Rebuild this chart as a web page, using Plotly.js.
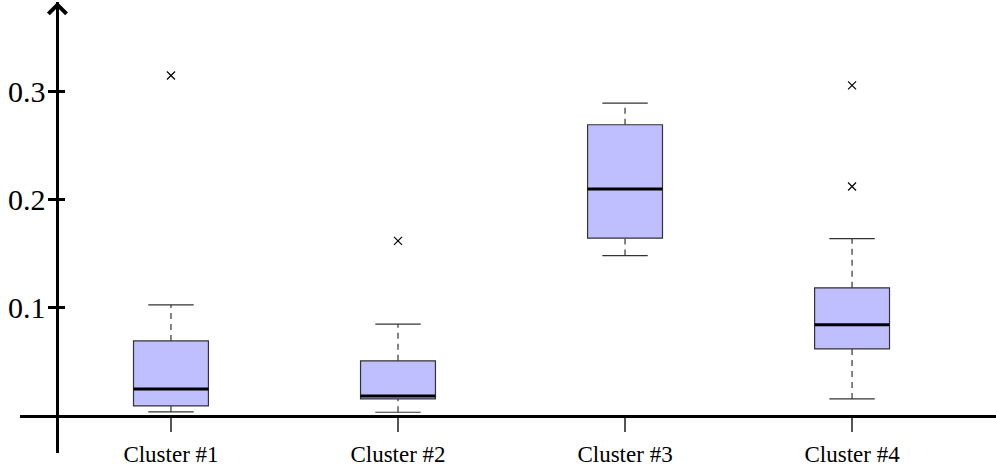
<!DOCTYPE html>
<html>
<head>
<meta charset="utf-8">
<script src="https://cdn.plot.ly/plotly-3.0.1.min.js"></script>
<style>html,body{margin:0;padding:0;background:#fff;}#chart{width:996px;height:470px;}</style>
</head>
<body>
<div id="chart"></div>
<script>
// ---- data ----
var categories = ['Cluster #1', 'Cluster #2', 'Cluster #3', 'Cluster #4'];
var lowerWhisker = [0.0037, 0.0034, 0.1484, 0.0157];
var q1Values = [0.0093, 0.0157, 0.1645, 0.0620];
var medianValues = [0.0250, 0.0185, 0.2099, 0.0843];
var q3Values = [0.0694, 0.0510, 0.2694, 0.1185];
var upperWhisker = [0.1028, 0.0850, 0.2895, 0.1640];
var outlierCluster = [0, 1, 3, 3];
var outlierValues = [0.315, 0.162, 0.3058, 0.2123];
var yTickValues = [0.1, 0.2, 0.3];
var yTickLabels = ['0.1', '0.2', '0.3'];

// ---- style ----
var boxWidth = 0.33, capHalf = 0.1;
var yRange = [-0.0343, 0.383];
var xRange = [-0.665, 3.634];
var yAxisAt = -0.5;
var serif = 'Liberation Serif, Times New Roman, serif';

var pos = categories.map(function (c, i) { return i; });

var whX = [], whY = [], capX = [], capY = [], medX = [], medY = [];
pos.forEach(function (p, i) {
  whX.push(p, p, null, p, p, null);
  whY.push(q3Values[i], upperWhisker[i], null, lowerWhisker[i], q1Values[i], null);
  capX.push(p - capHalf, p + capHalf, null, p - capHalf, p + capHalf, null);
  capY.push(upperWhisker[i], upperWhisker[i], null, lowerWhisker[i], lowerWhisker[i], null);
  medX.push(p - boxWidth / 2, p + boxWidth / 2, null);
  medY.push(medianValues[i], medianValues[i], null);
});

var traces = [
  {type: 'scatter', mode: 'lines', x: whX, y: whY, line: {color: '#333', width: 1.2, dash: '6px,5px'}, hoverinfo: 'skip', showlegend: false},
  {type: 'scatter', mode: 'lines', x: capX, y: capY, line: {color: '#333', width: 1.2}, hoverinfo: 'skip', showlegend: false},
  {type: 'box', x: pos, q1: q1Values, median: medianValues, q3: q3Values,
   lowerfence: q1Values, upperfence: q3Values, width: boxWidth, whiskerwidth: 0,
   boxpoints: false, fillcolor: 'rgb(191,191,255)', line: {color: '#333', width: 1.2}, showlegend: false},
  {type: 'scatter', mode: 'lines', x: medX, y: medY, line: {color: '#000', width: 3}, hoverinfo: 'skip', showlegend: false},
  {type: 'scatter', mode: 'markers', x: outlierCluster, y: outlierValues,
   marker: {symbol: 'x-thin-open', size: 8, color: '#000', line: {color: '#000', width: 1.2}}, showlegend: false},
  {type: 'scatter', x: [null], y: [null], yaxis: 'y2', hoverinfo: 'skip', showlegend: false}
];

var xFrac = (yAxisAt - xRange[0]) / (xRange[1] - xRange[0]);
var yFrac = (0 - yRange[0]) / (yRange[1] - yRange[0]);

var layout = {
  width: 996, height: 470,
  margin: {l: 20, r: 0, t: 2, b: 17},
  paper_bgcolor: '#fff', plot_bgcolor: '#fff',
  showlegend: false,
  boxmode: 'overlay',
  xaxis: {
    range: xRange, anchor: 'free', position: yFrac,
    showline: true, linecolor: '#000', linewidth: 3,
    showgrid: false, zeroline: false,
    tickmode: 'array', tickvals: pos, ticktext: categories,
    ticks: 'outside', ticklen: 14, tickwidth: 1.2, tickcolor: '#555',
    ticklabelstandoff: 2,
    tickfont: {family: serif, size: 23, color: '#000'}
  },
  yaxis: {
    range: yRange, anchor: 'free', position: xFrac,
    showline: true, linecolor: '#000', linewidth: 3,
    showgrid: false, zeroline: false,
    tickmode: 'array', tickvals: yTickValues, ticktext: yTickLabels,
    ticks: 'outside', ticklen: 8, tickwidth: 3, tickcolor: '#000',
    ticklabelstandoff: -3,
    tickfont: {family: serif, size: 30, color: '#000'}
  },
  yaxis2: {
    range: yRange, overlaying: 'y', anchor: 'free', position: xFrac, side: 'left',
    showline: false, showgrid: false, zeroline: false, showticklabels: false,
    tickmode: 'array', tickvals: yTickValues,
    ticks: 'inside', ticklen: 7, tickwidth: 3, tickcolor: '#000'
  },
  annotations: [{
    x: yAxisAt, y: yRange[1], xref: 'x', yref: 'y', text: '',
    showarrow: true, ax: 0, ay: 25, arrowhead: 4, arrowsize: 1.4, arrowwidth: 2.5,
    arrowcolor: '#000', standoff: 0
  }]
};

Plotly.newPlot('chart', traces, layout, {staticPlot: true, displayModeBar: false});
</script>
</body>
</html>
